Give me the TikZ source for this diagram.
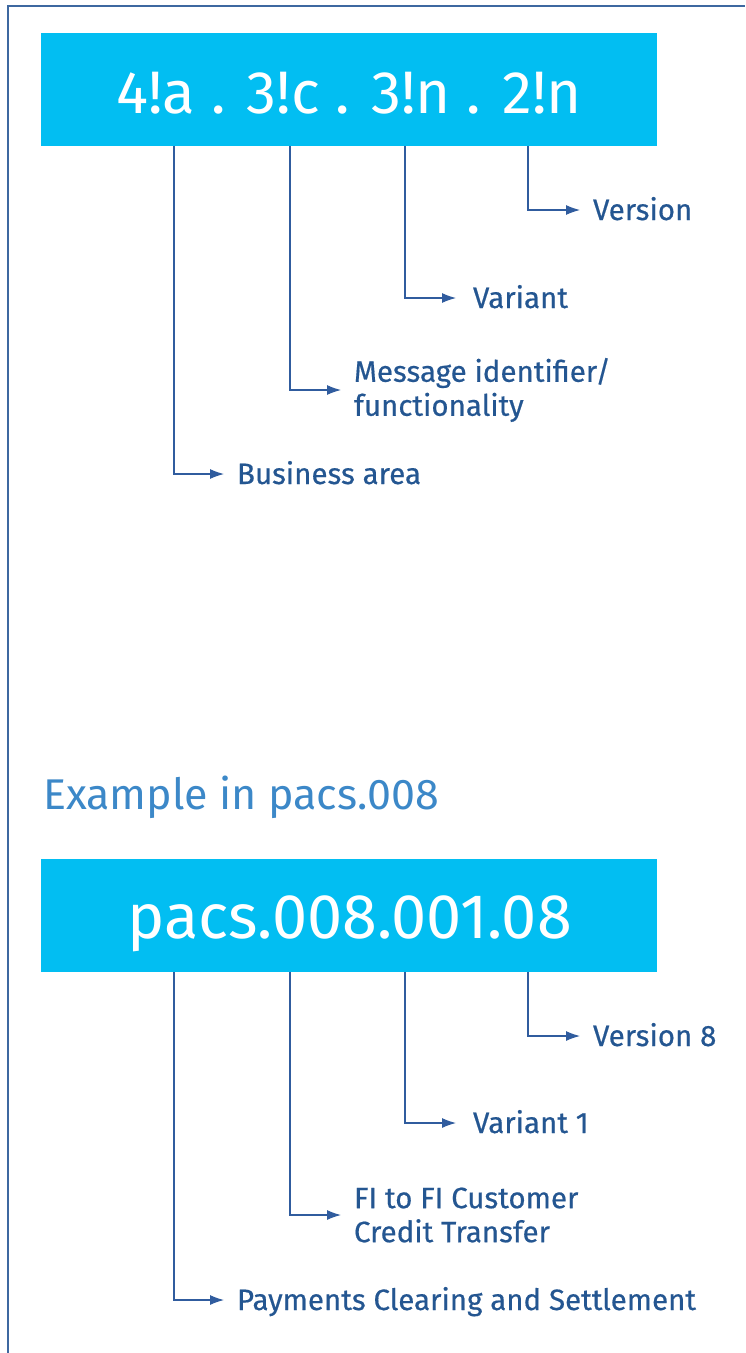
\documentclass[tikz,border=0pt]{standalone}
\usepackage{fontspec}
\setmainfont{Fira Sans}
\newfontfamily\lblfont[FakeBold=0.5]{Fira Sans}
\usetikzlibrary{arrows.meta}
\definecolor{boxcyan}{RGB}{2,190,242}
\definecolor{lblblue}{RGB}{36,86,145}
\definecolor{lineblue}{RGB}{48,92,158}
\definecolor{titleblue}{RGB}{60,136,200}
\definecolor{frameblue}{RGB}{62,104,160}
\tikzset{
  codebox/.style={fill=boxcyan, draw=none, minimum width=616pt, minimum height=113pt, inner sep=0pt},
  codetext/.style={text=white, anchor=base, inner sep=0pt},
  lblbase/.style={anchor=west, inner xsep=0pt, inner ysep=0pt, outer xsep=13pt, outer ysep=0pt, text=lblblue, align=left,
    font=\lblfont\fontsize{29.5}{34}\selectfont},
  lbl/.style={lblbase, text height=20pt, text depth=0pt},
  lbltwo/.style={lblbase},
  conn/.style={draw=lineblue, line width=1.1pt, -{Latex[length=14pt,width=10pt]}},
}
\begin{document}
\begin{tikzpicture}[x=1pt,y=-1pt]
\useasboundingbox (0,0) rectangle (745,1353);
% frame
\draw[frameblue, line width=1.5pt] (8,1353) -- (8,6) -- (745,6);

% top box
\node[codebox] (box1) at (349,89.5) {};
\node[codetext, font=\fontsize{60}{64}\selectfont] (code1) at (349,113) {4!a . 3!c . 3!n . 2!n};
\coordinate (a1) at (174,146);
\coordinate (a2) at (290,146);
\coordinate (a3) at (405,146);
\coordinate (a4) at (528,146);
\node[lbl] (ver) at (580,210) {Version};
\node[lbl, outer xsep=17pt] (var) at (456,298) {Variant};
\node[lbltwo] (msg) at (341,390) {Message identifier/\\functionality};
\node[lbl] (bus) at (224,474) {Business area};
\draw[conn] (a4) |- (ver.west);
\draw[conn] (a3) |- (var.west);
\draw[conn] (a2) |- (msg.west);
\draw[conn] (a1) |- (bus.west);

% title
\node[anchor=base west, inner sep=0pt, text=titleblue, font=\fontsize{43}{47}\selectfont] (title) at (43,809) {Example in pacs.008};

% bottom box
\node[codebox] (box2) at (349,915.5) {};
\node[codetext, font=\fontsize{63}{67}\selectfont] (code2) at (349.5,938) {pacs.008.001.08};
\coordinate (b1) at (174,972);
\coordinate (b2) at (290,972);
\coordinate (b3) at (405,972);
\coordinate (b4) at (528,972);
\node[lbl] (ver8) at (580,1036) {Version 8};
\node[lbl, outer xsep=17pt] (var1) at (456,1123) {Variant 1};
\node[lbltwo] (fi) at (341,1215) {FI to FI Customer\\Credit Transfer};
\node[lbl] (pcs) at (224,1300) {Payments Clearing and Settlement};
\draw[conn] (b4) |- (ver8.west);
\draw[conn] (b3) |- (var1.west);
\draw[conn] (b2) |- (fi.west);
\draw[conn] (b1) |- (pcs.west);
\end{tikzpicture}
\end{document}
